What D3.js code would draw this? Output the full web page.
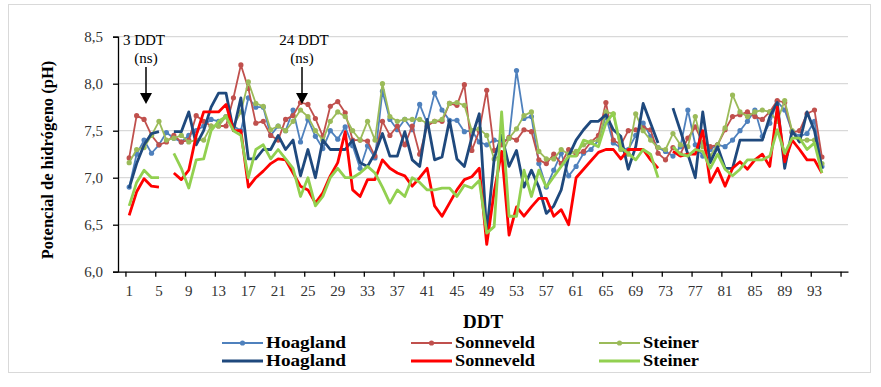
<!DOCTYPE html>
<html>
<head>
<meta charset="utf-8">
<script src="https://cdn.jsdelivr.net/npm/d3@7"></script>
<style>
  body { margin: 0; background: #fff; }
  text { font-family: "Liberation Serif", "Times New Roman", serif; }
</style>
</head>
<body>
<script>
// DDT 1..94, one value per day (null = no reading)
var days = d3.range(1, 95);
var tickDays = d3.range(1, 98, 4);
var yTicks = [6.0, 6.5, 7.0, 7.5, 8.0, 8.5];

var hoaglandA = [6.90,7.25,7.40,7.26,7.35,7.48,7.42,7.38,7.45,7.50,7.55,7.62,7.60,7.65,7.55,7.50,7.85,7.75,7.75,7.45,
  7.55,7.50,7.72,7.38,7.62,7.44,7.31,7.50,7.41,7.54,7.34,7.10,7.34,7.21,7.92,7.62,7.51,7.62,7.51,7.78,
  7.58,7.90,7.72,7.61,7.61,7.49,7.50,7.38,7.35,7.40,7.38,7.42,8.14,7.63,7.65,7.15,6.90,7.08,7.26,7.02,
  7.12,7.26,7.30,7.40,7.65,7.37,7.32,7.30,7.45,7.58,7.44,7.32,7.28,7.23,7.33,7.72,7.35,7.23,7.30,7.35,
  7.33,7.40,7.50,7.60,7.72,7.44,7.58,7.81,7.72,7.49,7.44,7.47,7.60,7.12];
var sonneveldA = [7.21,7.66,7.62,7.45,7.35,7.38,7.45,7.38,7.40,7.66,7.60,7.55,7.55,7.55,7.85,8.20,7.95,7.58,7.60,7.45,
  7.40,7.62,7.66,7.80,7.78,7.63,7.44,7.76,7.81,7.69,7.40,7.40,7.39,7.23,7.60,7.45,7.55,7.35,7.55,7.25,
  7.55,7.60,7.60,7.79,7.77,7.99,7.29,7.50,7.93,7.29,7.35,7.43,7.40,7.51,7.49,7.19,7.15,7.25,7.15,7.30,
  7.25,7.28,7.38,7.45,7.80,7.40,7.35,7.50,7.51,7.53,7.51,7.26,7.19,7.32,7.25,7.42,7.54,7.37,7.33,7.35,
  7.51,7.65,7.67,7.70,7.65,7.62,7.70,7.82,7.80,7.48,7.50,7.68,7.72,7.22];
var steinerA = [7.16,7.30,7.32,7.45,7.60,7.40,7.42,7.45,7.38,7.40,7.40,7.55,7.55,7.65,7.55,7.70,8.02,7.79,7.76,7.51,
  7.55,7.50,7.60,7.72,7.65,7.50,7.40,7.60,7.70,7.65,7.50,7.40,7.60,7.40,8.00,7.65,7.60,7.62,7.62,7.62,
  7.58,7.60,7.62,7.79,7.80,7.77,7.50,7.52,7.45,7.20,7.24,7.42,7.52,7.66,7.70,7.28,7.20,7.20,7.30,7.25,
  7.28,7.35,7.38,7.40,7.70,7.68,7.30,7.25,7.68,7.50,7.40,7.32,7.30,7.47,7.35,7.33,7.65,7.33,7.23,7.35,
  7.53,7.88,7.70,7.65,7.70,7.72,7.70,7.60,7.82,7.50,7.40,7.40,7.40,7.15];

var hoaglandB = [6.89,7.15,7.35,7.47,7.49,null,7.49,7.49,7.70,7.35,7.50,7.75,7.90,7.90,7.50,7.85,7.20,7.20,7.30,7.30,
  7.45,7.30,7.40,7.02,7.30,7.00,7.40,7.30,7.30,7.30,7.40,7.16,7.12,7.26,7.47,7.23,7.23,7.49,7.19,7.12,
  7.62,7.19,7.22,7.61,7.20,7.12,7.43,7.68,6.41,7.20,7.45,7.12,7.29,6.90,7.08,6.90,6.62,6.70,6.87,7.23,
  7.40,7.51,7.60,7.60,7.67,7.51,7.44,7.09,7.33,7.79,7.58,7.37,null,7.74,7.50,7.25,7.00,7.70,7.16,7.33,
  7.10,7.10,7.40,7.40,7.40,7.40,7.65,7.80,7.10,7.50,7.38,7.70,7.50,7.10];
var sonneveldB = [6.60,6.85,6.99,6.91,6.90,null,7.05,6.98,7.08,7.45,7.70,7.70,7.70,7.78,7.50,7.50,6.90,7.00,7.07,7.15,
  7.20,7.19,7.05,6.91,6.87,6.73,6.84,7.02,7.16,7.49,6.87,6.80,6.98,6.98,7.19,7.10,7.05,7.02,6.91,7.00,
  7.10,6.70,6.59,6.73,6.87,6.98,7.01,7.10,6.29,6.85,7.28,6.39,6.69,6.59,6.69,6.78,6.78,6.59,6.66,6.50,
  7.00,7.09,7.18,7.27,7.30,7.30,7.20,7.30,7.30,7.30,7.19,7.10,null,7.28,7.23,7.25,7.25,7.50,6.95,7.10,
  6.91,7.10,7.17,7.09,7.19,7.25,7.12,7.75,7.17,7.40,7.30,7.19,7.19,7.05];
var steinerB = [6.70,6.95,7.08,7.00,7.00,null,7.26,7.10,6.89,7.19,7.20,7.50,7.60,7.65,7.50,7.45,7.00,7.30,7.35,7.20,
  7.30,7.20,7.10,6.80,7.00,6.70,6.80,7.00,7.10,7.00,7.00,7.05,7.12,7.05,6.90,6.73,6.87,6.80,7.00,6.95,
  6.87,6.87,6.89,6.89,6.80,6.92,6.89,6.97,6.41,6.48,7.70,6.59,6.59,7.08,6.80,7.08,6.90,7.01,7.12,7.23,
  7.23,7.40,7.37,7.33,7.58,7.69,7.32,7.26,7.19,7.30,7.25,7.00,null,7.33,7.25,7.23,7.30,7.28,7.10,7.25,
  7.09,7.02,7.09,7.19,7.19,7.19,7.23,7.51,7.26,7.42,7.42,7.30,7.37,7.05];

var names = ["Hoagland", "Sonneveld", "Steiner"];
var markerColors = ["#4f81bd", "#c0504d", "#9bbb59"];
var lineColors = ["#1f497d", "#ff0000", "#92d050"];

var W = 881, H = 387;
var svg = d3.select("body").append("svg")
  .attr("width", W).attr("height", H);

svg.append("rect")
  .attr("x", 8.5).attr("y", 4.5).attr("width", 862).attr("height", 368)
  .attr("fill", "#fff").attr("stroke", "#d9d9d9");

var x = d3.scaleLinear().domain([-0.5, 97.5]).range([118, 848]);
var y = d3.scaleLinear().domain([6.0, 8.5]).range([271.7, 36.7]);

// gridlines
svg.append("g")
  .selectAll("line")
  .data(yTicks.slice(1))
  .enter()
  .append("line")
  .attr("x1", x(-0.5)).attr("x2", x(97.5))
  .attr("y1", function(d) { return y(d); })
  .attr("y2", function(d) { return y(d); })
  .attr("stroke", "#d9d9d9").attr("stroke-width", 1.3);

// y axis
var yAxis = svg.append("g")
  .attr("transform", "translate(" + x(-0.5) + ",0)")
  .call(d3.axisLeft(y).tickValues(yTicks).tickSize(5).tickPadding(10)
    .tickFormat(function(d) { return d3.format(".1f")(d).replace(".", ","); }));
yAxis.select(".domain").attr("stroke", "#000").attr("stroke-width", 1.3);
yAxis.selectAll("line").attr("stroke", "#000").attr("stroke-width", 1.3);
yAxis.selectAll("text").attr("font-size", 15).attr("fill", "#333");

// x axis
var xAxis = svg.append("g")
  .attr("transform", "translate(0," + y(6.0) + ")")
  .call(d3.axisBottom(x).tickValues(tickDays.map(function(d) { return d - 0.5; }))
    .tickSize(5).tickSizeOuter(0).tickFormat(""));
xAxis.select(".domain").attr("stroke", "#000").attr("stroke-width", 1.3);
xAxis.selectAll("line").attr("stroke", "#000").attr("stroke-width", 1.3);

svg.append("g")
  .selectAll("text")
  .data(tickDays.filter(function(d) { return d <= 93; }))
  .enter()
  .append("text")
  .attr("x", function(d) { return x(d); })
  .attr("y", 296)
  .attr("text-anchor", "middle")
  .attr("font-size", 15)
  .attr("fill", "#333")
  .text(function(d) { return d; });

// series
var line = d3.line()
  .defined(function(d) { return d[1] != null; })
  .x(function(d) { return x(d[0]); })
  .y(function(d) { return y(d[1]); });

function pairs(vals) {
  return days.map(function(d, i) { return [d, vals[i]]; });
}

var markerSeries = [hoaglandA, sonneveldA, steinerA];
var lineSeries = [hoaglandB, sonneveldB, steinerB];

markerSeries.forEach(function(vals, k) {
  var g = svg.append("g");
  g.append("path")
    .attr("d", line(pairs(vals)))
    .attr("fill", "none")
    .attr("stroke", markerColors[k])
    .attr("stroke-width", 1.8)
    .attr("stroke-linejoin", "round");
  g.selectAll("circle")
    .data(pairs(vals).filter(function(d) { return d[1] != null; }))
    .enter()
    .append("circle")
    .attr("cx", function(d) { return x(d[0]); })
    .attr("cy", function(d) { return y(d[1]); })
    .attr("r", 2.6)
    .attr("fill", markerColors[k]);
});

lineSeries.forEach(function(vals, k) {
  svg.append("path")
    .attr("d", line(pairs(vals)))
    .attr("fill", "none")
    .attr("stroke", lineColors[k])
    .attr("stroke-width", 2.8)
    .attr("stroke-linejoin", "round");
});

// annotations
var notes = [{day: 3, label: "3 DDT", tx: 144, ax: 146}, {day: 24, label: "24 DDT", tx: 304, ax: 302}];
notes.forEach(function(n) {
  svg.append("text").attr("x", n.tx).attr("y", 45).attr("text-anchor", "middle")
    .attr("font-size", 15).text(n.label);
  svg.append("text").attr("x", n.ax).attr("y", 63).attr("text-anchor", "middle")
    .attr("font-size", 15).text("(ns)");
  svg.append("line").attr("x1", n.ax).attr("x2", n.ax).attr("y1", 67).attr("y2", 95)
    .attr("stroke", "#000").attr("stroke-width", 1.5);
  svg.append("path")
    .attr("d", "M" + (n.ax - 6) + ",93 L" + (n.ax + 6) + ",93 L" + n.ax + ",104 Z")
    .attr("fill", "#000");
});

// axis titles
svg.append("text")
  .attr("transform", "translate(53,160) rotate(-90)")
  .attr("text-anchor", "middle")
  .attr("font-size", 16.5).attr("font-weight", "bold")
  .text("Potencial de hidrógeno (pH)");

svg.append("text")
  .attr("x", 483).attr("y", 328)
  .attr("text-anchor", "middle")
  .attr("font-size", 19).attr("font-weight", "bold")
  .text("DDT");

// legend
var legX = [222, 411, 599];
[0, 1].forEach(function(row) {
  names.forEach(function(name, k) {
    var ly = row === 0 ? 343 : 361;
    var g = svg.append("g");
    g.append("line")
      .attr("x1", legX[k]).attr("x2", legX[k] + 41)
      .attr("y1", ly).attr("y2", ly)
      .attr("stroke", row === 0 ? markerColors[k] : lineColors[k])
      .attr("stroke-width", row === 0 ? 1.8 : 2.8);
    if (row === 0) {
      g.append("circle").attr("cx", legX[k] + 20.5).attr("cy", ly).attr("r", 2.6)
        .attr("fill", markerColors[k]);
    }
    g.append("text")
      .attr("x", legX[k] + 44).attr("y", ly + 5)
      .attr("font-size", 16).attr("font-weight", "bold")
      .attr("textLength", name === "Steiner" ? 56 : 80)
      .attr("lengthAdjust", "spacingAndGlyphs")
      .text(name);
  });
});
</script>
</body>
</html>
